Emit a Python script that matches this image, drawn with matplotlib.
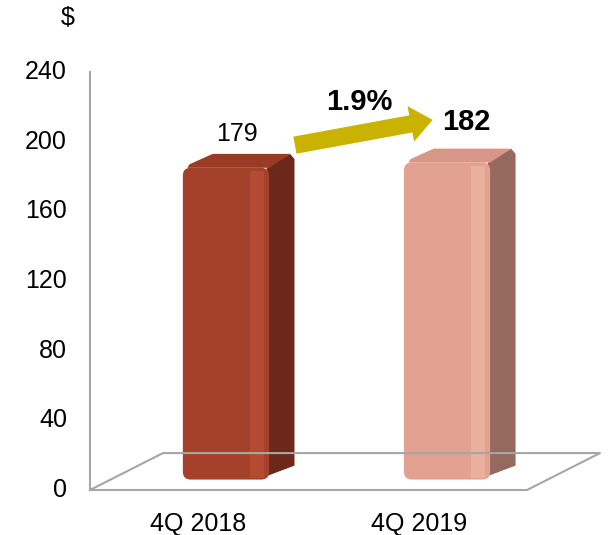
import matplotlib.pyplot as plt
from matplotlib.patches import Polygon, FancyArrowPatch, FancyBboxPatch

plt.rcParams['font.family'] = ['Liberation Sans', 'DejaVu Sans']

categories = ['4Q 2018', '4Q 2019']
values = [179, 182]
value_labels = ['179', '182']
growth_label = '1.9%'
yticks = [0, 40, 80, 120, 160, 200, 240]

front_colors = ['#A5402A', '#E2A191']
light_colors = ['#BA5038', '#F0B5A3']
side_colors = ['#6C291B', '#95695E']
top_colors = ['#9C3B25', '#D99585']

fig = plt.figure(figsize=(6.1, 5.35), dpi=100)
ax = fig.add_axes([90 / 610, 45 / 535, 510 / 610, 418 / 535])
ax.set_xlim(-0.615, 1.692)
ax.set_ylim(0, 240)
ax.axis('off')

grey = '#A6A6A6'
# floor
ax.plot([-0.615, 1.362, 1.692, -0.285, -0.615], [0, 0, 21.2, 21.2, 0],
        color=grey, lw=1.5, clip_on=False)
# value axis line
ax.plot([-0.615, -0.615], [0, 240], color=grey, lw=1.5, clip_on=False)

for t in yticks:
    ax.text(-0.719, t, str(t), ha='right', va='center', fontsize=18)
ax.text(-0.683, 271, '$', ha='right', va='center', fontsize=18, clip_on=False)

w = 0.39
dx, dy = 0.115, 8.0
base = 6.0
r = 0.035
asp = 221 / 1.742  # x-units per y-unit in pixels ratio
for i, v in enumerate(values):
    x0 = i - w / 2
    x1 = i + w / 2
    top = base + v
    ax.add_patch(Polygon([(x1 - 0.01, base + 2), (x1 + dx, base + dy), (x1 + dx, top + dy - 3),
                          (x1 + dx - 0.02, top + dy), (x1 - 0.01, top)],
                         closed=True, fc=side_colors[i], ec='none'))
    ax.add_patch(Polygon([(x0 + 0.02, top), (x1, top), (x1 + dx - 0.02, top + dy),
                          (x0 + dx + 0.02, top + dy), (x0 + 0.03, top + 2)],
                         closed=True, fc=top_colors[i], ec='none'))
    ax.add_patch(FancyBboxPatch((x0, base), w, v,
                                boxstyle='round,pad=0,rounding_size=%g' % r,
                                mutation_aspect=asp, fc=front_colors[i], ec='none'))
    ax.add_patch(Polygon([(x1 - 0.085, base + 1), (x1 - 0.025, base + 1),
                          (x1 - 0.025, top - 2), (x1 - 0.085, top - 2)],
                         closed=True, fc=light_colors[i], ec='none', alpha=0.7))
    ax.text(i - 0.125, -19.5, categories[i], ha='center', va='center', fontsize=18,
            clip_on=False)

ax.text(0.05, 204.4, value_labels[0], ha='center', va='center', fontsize=18)
ax.text(1.086, 211.3, value_labels[1], ha='center', va='center', fontsize=21, fontweight='bold')
ax.text(0.602, 222.8, growth_label, ha='center', va='center', fontsize=21, fontweight='bold')

arrow = FancyArrowPatch((0.312, 198.0), (0.935, 212.5),
                        arrowstyle='simple,head_length=16,head_width=26,tail_width=12.5',
                        mutation_scale=1, shrinkA=0, shrinkB=0,
                        fc='#C9B200', ec='none')
ax.add_patch(arrow)

fig.savefig('out.png', dpi=100)
